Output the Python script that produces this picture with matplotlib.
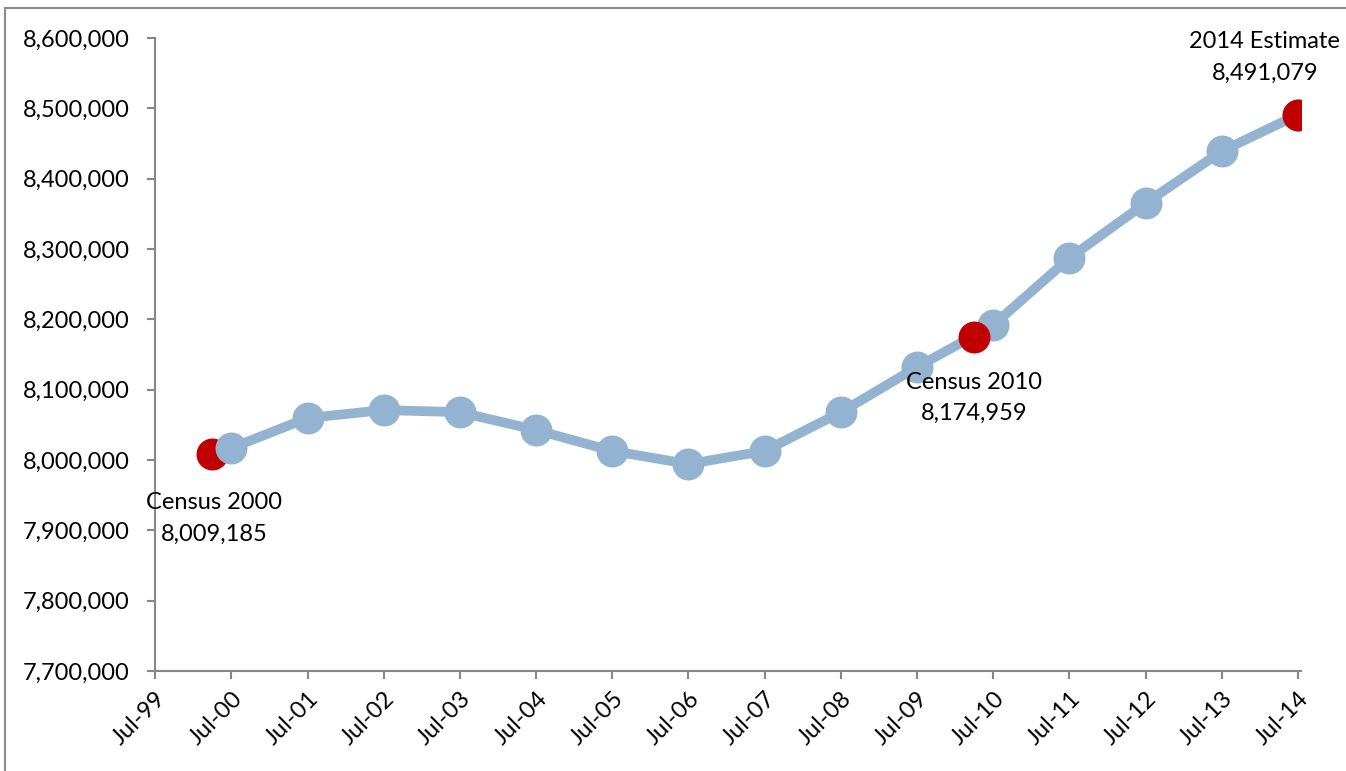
import datetime as dt
import matplotlib
matplotlib.use("Agg")
import matplotlib.pyplot as plt
import matplotlib.dates as mdates
from matplotlib.patches import Rectangle
from matplotlib.ticker import FuncFormatter, MultipleLocator

# July population estimates
est_years = list(range(2000, 2015))
est_values = [8017000, 8059700, 8071000, 8068000, 8042600, 8012800, 7994300,
              8012800, 8068000, 8132200, 8191900, 8287200, 8365400, 8439300,
              8491079]

# Highlighted points: census counts (April) and the latest estimate (July)
key_labels = ["Census 2000", "Census 2010", "2014 Estimate"]
key_dates = [dt.date(2000, 4, 1), dt.date(2010, 4, 1), dt.date(2014, 7, 1)]
key_values = [8009185, 8174959, 8491079]

tick_labels = [f"Jul-{y % 100:02d}" for y in range(1999, 2015)]

plt.rcParams["font.family"] = ["Lato", "DejaVu Sans"]

W, H, DPI = 1346, 771, 100
FS = 17
fig = plt.figure(figsize=(W / DPI, H / DPI), dpi=DPI)
ax = fig.add_axes([155 / W, 1 - 671 / H, (1301 - 155) / W, (671 - 38) / H])

# outer chart frame
fig.patches.append(Rectangle((5 / W, -0.1), 1.2, 1 - 8 / H + 0.1,
                             transform=fig.transFigure, fill=False,
                             edgecolor="#8c8c8c", linewidth=1.5))

blue = "#93b3d0"
red = "#c00000"

est_dates = [dt.date(y, 7, 1) for y in est_years]

ax.plot(key_dates[0], key_values[0], "o", color=red, ms=22, mec=red, zorder=2)
ax.plot(est_dates, est_values, "-o", color=blue, lw=7, ms=22, mec=blue,
        zorder=3, solid_capstyle="round")
ax.plot(key_dates[1:], key_values[1:], "o", color=red, ms=22, mec=red, zorder=4)

# point annotations
offsets = [(1, -28), (0, -25), (-24, 60)]
for lab, d, v, off in zip(key_labels, key_dates, key_values, offsets):
    ax.annotate(f"{lab}\n{v:,}", (mdates.date2num(d), v),
                xytext=off, textcoords="offset points", ha="center", va="top",
                fontsize=FS, linespacing=1.6, color="#000000")

# axes
ax.set_ylim(7700000, 8600000)
ax.yaxis.set_major_locator(MultipleLocator(100000))
ax.yaxis.set_major_formatter(FuncFormatter(lambda v, p: f"{v:,.0f}"))

tick_dates = [dt.date(1999 + i, 7, 1) for i in range(len(tick_labels))]
ax.set_xlim(mdates.date2num(tick_dates[0]), mdates.date2num(tick_dates[-1]) + 14)
ax.set_xticks([mdates.date2num(d) for d in tick_dates])
ax.set_xticklabels(tick_labels, rotation=45, ha="right", va="top",
                   rotation_mode="anchor")

for s in ("top", "right"):
    ax.spines[s].set_visible(False)
for s in ("left", "bottom"):
    ax.spines[s].set_color("#868686")
    ax.spines[s].set_linewidth(1.5)
ax.tick_params(axis="both", colors="#868686", labelcolor="#000000",
               labelsize=FS, width=1.5, length=6, direction="out")
ax.tick_params(axis="y", pad=12)
ax.tick_params(axis="x", pad=6)

fig.savefig("out.png", dpi=DPI)
